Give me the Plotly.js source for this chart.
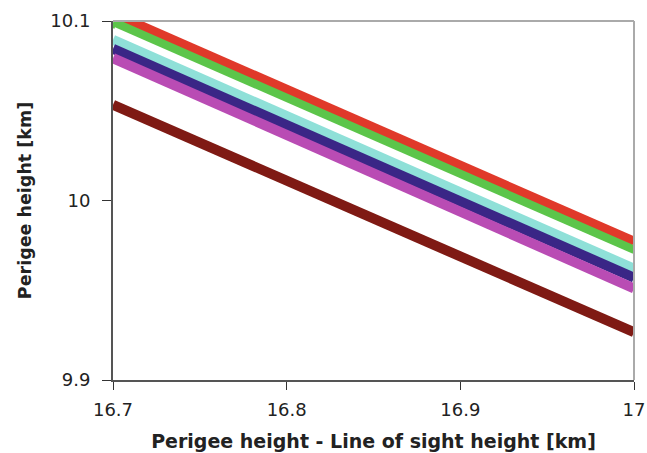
<!DOCTYPE html>
<html>
<head>
<meta charset="utf-8">
<script src="https://cdn.plot.ly/plotly-3.0.1.min.js"></script>
<style>html,body{margin:0;padding:0;background:#fff;}#chart{width:647px;height:453px;}</style>
</head>
<body>
<div id="chart"></div>
<script>
const xValues = [16.7, 17];
const redLine = [10.104, 9.977];
const greenLine = [10.099, 9.972];
const whiteLine = [10.094, 9.967];
const cyanLine = [10.0895, 9.962];
const blueLine = [10.0845, 9.957];
const magentaLine = [10.0793, 9.951];
const darkRedLine = [10.0533, 9.9266];
const xTicks = [16.7, 16.8, 16.9, 17];
const xTickText = ['16.7', '16.8', '16.9', '17'];
const yTicks = [9.9, 10, 10.1];
const yTickText = ['9.9', '10', '10.1'];

const seriesList = [
  {y: redLine, color: '#e0392a'},
  {y: greenLine, color: '#5cc54a'},
  {y: whiteLine, color: '#ffffff'},
  {y: cyanLine, color: '#8fe0d8'},
  {y: blueLine, color: '#3a2686'},
  {y: magentaLine, color: '#b94cb4'},
  {y: darkRedLine, color: '#7f1a14'}
];

const traces = seriesList.map(s => ({
  x: xValues, y: s.y, type: 'scatter', mode: 'lines',
  line: {color: s.color, width: 10}, showlegend: false, hoverinfo: 'none'
}));

const font = {family: 'DejaVu Sans, Verdana, sans-serif', color: '#222'};

const layout = {
  width: 647, height: 453,
  margin: {l: 113, r: 13, t: 21, b: 73},
  paper_bgcolor: '#fff', plot_bgcolor: '#fff',
  showlegend: false,
  xaxis: {
    range: [16.7, 17], tickvals: xTicks, ticktext: xTickText,
    ticks: 'outside', ticklen: 8, tickcolor: '#333', tickwidth: 1,
    showline: true, linecolor: '#555', linewidth: 2,
    showgrid: false, zeroline: false,
    ticklabelstandoff: 4,
    tickfont: Object.assign({size: 18}, font),
    title: {text: 'Perigee height - Line of sight height [km]', font: Object.assign({size: 19, weight: 'bold'}, font), standoff: 16}
  },
  yaxis: {
    range: [9.9, 10.1], tickvals: yTicks, ticktext: yTickText,
    ticks: 'outside', ticklen: 9, tickcolor: '#333', tickwidth: 1,
    showline: true, linecolor: '#555', linewidth: 2,
    showgrid: false, zeroline: false,
    ticklabelstandoff: 8,
    tickfont: Object.assign({size: 18}, font),
    title: {text: 'Perigee height [km]', font: Object.assign({size: 17.5, weight: 'bold'}, font), standoff: 14}
  },
  shapes: [
    {type: 'line', xref: 'paper', yref: 'paper', x0: 0, x1: 1, y0: 1, y1: 1, line: {color: '#aaa', width: 2}},
    {type: 'line', xref: 'paper', yref: 'paper', x0: 1, x1: 1, y0: 0, y1: 1, line: {color: '#aaa', width: 2}}
  ]
};

Plotly.newPlot('chart', traces, layout, {displayModeBar: false, staticPlot: true});
</script>
</body>
</html>
